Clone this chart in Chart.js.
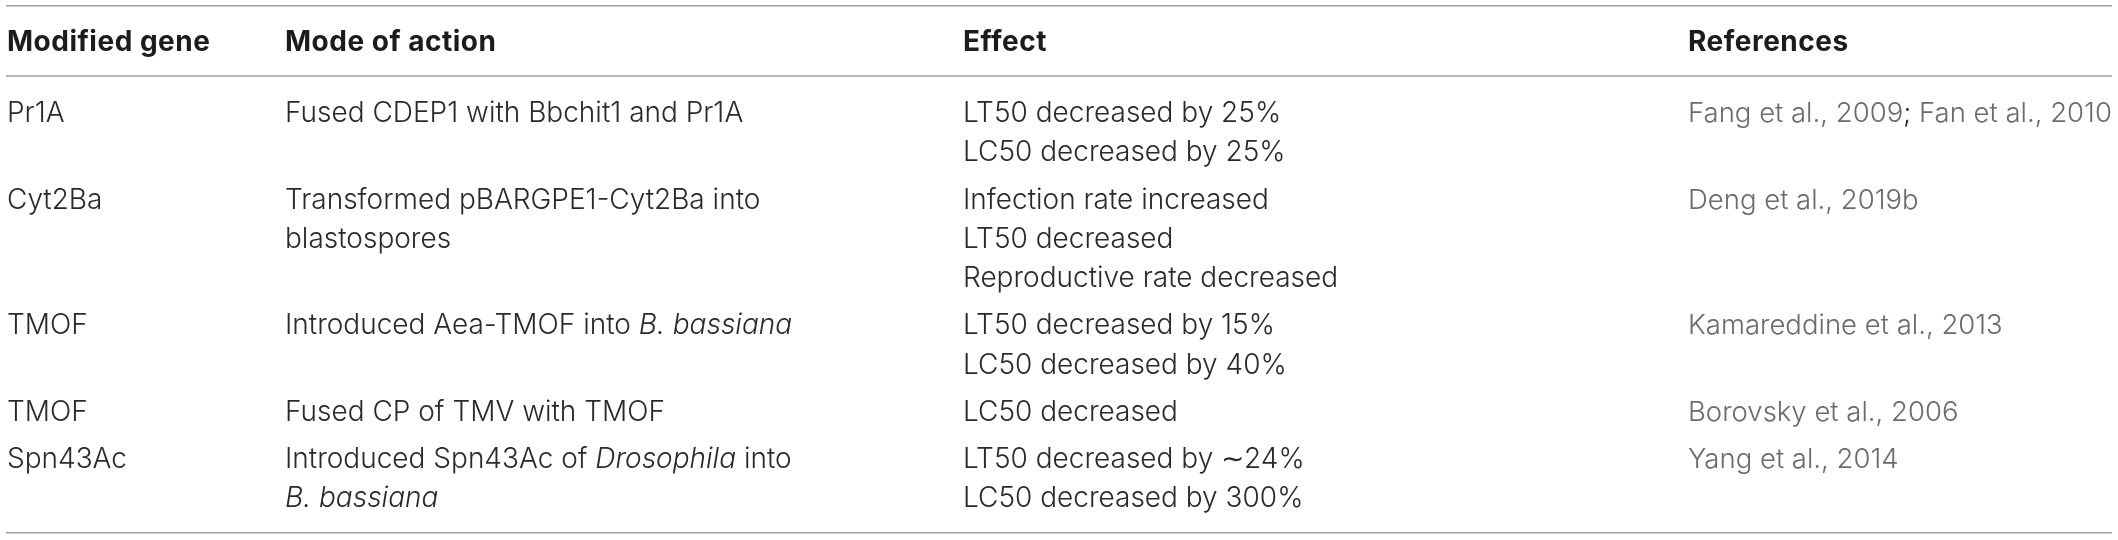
<!DOCTYPE html>
<html>
<head>
<meta charset="utf-8">
<script src="https://cdn.jsdelivr.net/npm/chart.js@4.4.1/dist/chart.umd.min.js"></script>
<style>
  html, body { margin: 0; padding: 0; background: #ffffff; }
  #tableChart { display: block; }
</style>
</head>
<body>
<canvas id="tableChart" width="2118" height="540"></canvas>
<script>
// table content (*...* = italic)
const headers = ["Modified gene", "Mode of action", "Effect", "References"];
const genes = ["Pr1A", "Cyt2Ba", "TMOF", "TMOF", "Spn43Ac"];
const modes = [
    ["Fused CDEP1 with Bbchit1 and Pr1A"],
    ["Transformed pBARGPE1-Cyt2Ba into", "blastospores"],
    ["Introduced Aea-TMOF into *B. bassiana*"],
    ["Fused CP of TMV with TMOF"],
    ["Introduced Spn43Ac of *Drosophila* into", "*B. bassiana*"]
];
const effects = [
    ["LT50 decreased by 25%", "LC50 decreased by 25%"],
    ["Infection rate increased", "LT50 decreased", "Reproductive rate decreased"],
    ["LT50 decreased by 15%", "LC50 decreased by 40%"],
    ["LC50 decreased"],
    ["LT50 decreased by \u223C24%", "LC50 decreased by 300%"]
];
const refs = [
    ["Fang et al., 2009; Fan et al., 2010"],
    ["Deng et al., 2019b"],
    ["Kamareddine et al., 2013"],
    ["Borovsky et al., 2006"],
    ["Yang et al., 2014"]
];

// layout (x in canvas px, y in text-line units, one line = 39.3px)
const colLeft = [7, 285, 963, 1688];
const LINE_PX = 39.3;
const HEAD_PX = 41;
const ROW_GAP = 0.2;
const FIRST_ROW = 1.81;
const HEAD_RULE = 0.89;
const RULE_PAD = 0.9;
const TOP_RULE = -0.9;
const FONT = "Inter, 'Liberation Sans', Arial, sans-serif";

const points = [];
headers.forEach((h, c) => points.push({ x: colLeft[c], y: 0, text: h, kind: "head" }));

let rowY = FIRST_ROW;
genes.forEach((g, r) => {
    const cols = [[g], modes[r], effects[r], refs[r]];
    cols.forEach((lines, c) => {
        lines.forEach((t, l) => {
            points.push({ x: colLeft[c], y: rowY + l, text: t, kind: c === 3 ? "ref" : "body" });
        });
    });
    const n = Math.max(...cols.map(a => a.length));
    rowY += n + (r < genes.length - 1 ? ROW_GAP : 0);
});
const lastLine = rowY - 1;
const rules = [TOP_RULE, HEAD_RULE, lastLine + RULE_PAD];

// draw a line of text with *italic* parts
function drawRich(ctx, text, x, y, weight, size, color, spacing) {
    const parts = text.split("*");
    let cx = x;
    ctx.letterSpacing = spacing;
    parts.forEach((p, i) => {
        if (!p) return;
        const italic = i % 2 === 1;
        ctx.font = (italic ? "italic " : "") + weight + " " + size + "px " + FONT;
        if (color === "ref") {
            // semicolon between references is dark
            const bits = p.split(/(;)/);
            bits.forEach(b => {
                ctx.fillStyle = b === ";" ? "#222222" : "#6b6b6b";
                ctx.fillText(b, cx, y);
                cx += ctx.measureText(b).width;
            });
        } else {
            ctx.fillStyle = color;
            ctx.fillText(p, cx, y);
            cx += ctx.measureText(p).width;
        }
    });
}

const tableText = {
    id: "tableText",
    afterDatasetsDraw(chart) {
        const ctx = chart.ctx;
        const xs = chart.scales.x, ys = chart.scales.y;
        ctx.save();
        // horizontal rules
        ctx.strokeStyle = "#a0a0a0";
        ctx.lineWidth = 1.5;
        rules.forEach(v => {
            const py = ys.getPixelForValue(v);
            ctx.beginPath();
            ctx.moveTo(xs.getPixelForValue(6), py);
            ctx.lineTo(xs.getPixelForValue(2112), py);
            ctx.stroke();
        });
        // cell texts placed at the dataset points (baseline = centre + half cap height)
        ctx.textBaseline = "alphabetic";
        ctx.textAlign = "left";
        const meta = chart.getDatasetMeta(0);
        meta.data.forEach((el, i) => {
            const p = points[i];
            if (p.kind === "head") drawRich(ctx, p.text, el.x, el.y + 10, "700", 28, "#1c1c1c", "0.5px");
            else if (p.kind === "ref") drawRich(ctx, p.text, el.x, el.y + 10, "300", 27.5, "ref", "0px");
            else drawRich(ctx, p.text, el.x, el.y + 10, "300", 28, "#2a2a2a", "0px");
        });
        ctx.restore();
    }
};

new Chart(document.getElementById("tableChart"), {
    type: "scatter",
    data: {
        datasets: [{
            data: points,
            pointRadius: 0,
            pointHoverRadius: 0
        }]
    },
    options: {
        responsive: false,
        devicePixelRatio: 1,
        animation: false,
        layout: { padding: 0 },
        plugins: {
            legend: { display: false },
            tooltip: { enabled: false }
        },
        scales: {
            x: { type: "linear", display: false, min: 0, max: 2118 },
            y: {
                type: "linear", display: false, reverse: true,
                min: -HEAD_PX / LINE_PX, max: (540 - HEAD_PX) / LINE_PX
            }
        }
    },
    plugins: [tableText]
});
</script>
</body>
</html>
